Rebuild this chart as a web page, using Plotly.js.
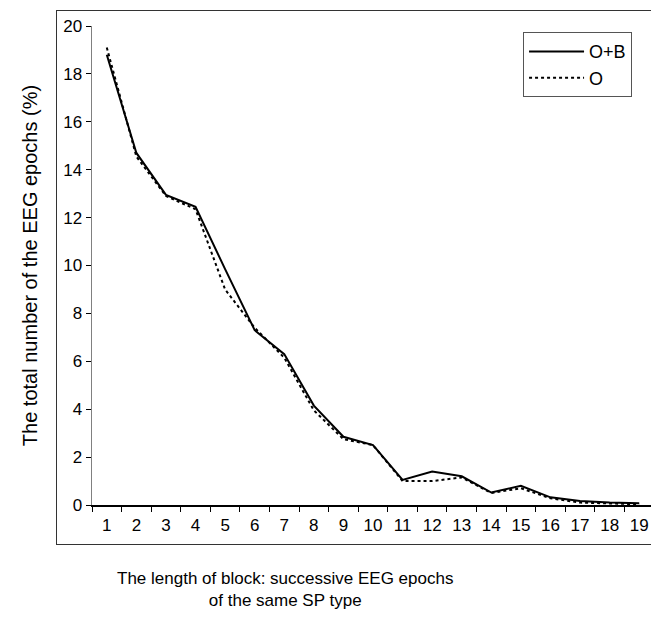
<!DOCTYPE html>
<html>
<head>
<meta charset="utf-8">
<script src="https://cdn.plot.ly/plotly-3.0.1.min.js"></script>
<style>
html,body{margin:0;padding:0;overflow:hidden;background:#fff;}
#frame{position:absolute;left:56px;top:10px;width:640px;height:535px;border:1.5px solid #333;box-sizing:border-box;pointer-events:none;z-index:5;}
#chart{position:absolute;left:0;top:0;}
</style>
</head>
<body>
<div id="chart"></div>
<div id="frame"></div>
<script>
var categories = ['1','2','3','4','5','6','7','8','9','10','11','12','13','14','15','16','17','18','19'];
var seriesOB = [18.8, 14.7, 12.95, 12.45, 9.85, 7.3, 6.3, 4.15, 2.85, 2.5, 1.05, 1.4, 1.2, 0.52, 0.8, 0.32, 0.17, 0.1, 0.07];
var seriesO  = [19.1, 14.55, 12.9, 12.35, 9.0, 7.4, 6.15, 3.95, 2.75, 2.5, 1.0, 1.0, 1.15, 0.5, 0.7, 0.28, 0.1, 0.05, 0.03];
var yTicks = [0,2,4,6,8,10,12,14,16,18,20];

var font = 'Liberation Sans, Arial, sans-serif';
var traces = [
  {x: categories, y: seriesOB, name: 'O+B', type: 'scatter', mode: 'lines',
   line: {color: '#000', width: 2}},
  {x: categories, y: seriesO, name: 'O', type: 'scatter', mode: 'lines',
   line: {color: '#000', width: 2, dash: 'dot'}}
];
var layout = {
  width: 660, height: 622,
  margin: {l: 92, r: 6, t: 26, b: 117},
  paper_bgcolor: 'rgba(0,0,0,0)', plot_bgcolor: '#fff',
  font: {family: font, size: 16, color: '#000'},
  showlegend: true,
  legend: {x: 0.767, y: 0.987, xanchor: 'left', yanchor: 'top',
           bordercolor: '#555', borderwidth: 1, bgcolor: '#fff',
           itemwidth: 55,
           font: {family: font, size: 18, color: '#000'},
           tracegroupgap: 0},
  xaxis: {type: 'category', range: [-0.5, 18.5], tickson: 'boundaries',
          ticks: 'outside', ticklen: 5, tickcolor: '#000', tickwidth: 1,
          ticklabelstandoff: 4,
          showline: true, linecolor: '#000', linewidth: 1.5,
          showgrid: false, zeroline: false,
          tickfont: {family: font, size: 17, color: '#000'}, fixedrange: true},
  yaxis: {range: [0, 20], tickvals: yTicks, ticktext: yTicks.map(String),
          ticks: 'outside', ticklen: 5, tickcolor: '#000', tickwidth: 1,
          showline: true, linecolor: '#808080', linewidth: 1.5,
          showgrid: false, zeroline: false,
          tickfont: {family: font, size: 17, color: '#000'},
          title: {text: 'The total number of the EEG epochs (%)', standoff: 20,
                  font: {family: font, size: 20, color: '#000'}}, fixedrange: true},
  annotations: [{
    text: 'The length of block: successive EEG epochs<br>of the same SP type',
    xref: 'paper', yref: 'paper', x: (285 - 92) / 562, y: (505 - 567) / 479,
    xanchor: 'center', yanchor: 'top', showarrow: false,
    font: {family: font, size: 17, color: '#000'}
  }]
};
Plotly.newPlot('chart', traces, layout, {displayModeBar: false, staticPlot: true});
</script>
</body>
</html>
